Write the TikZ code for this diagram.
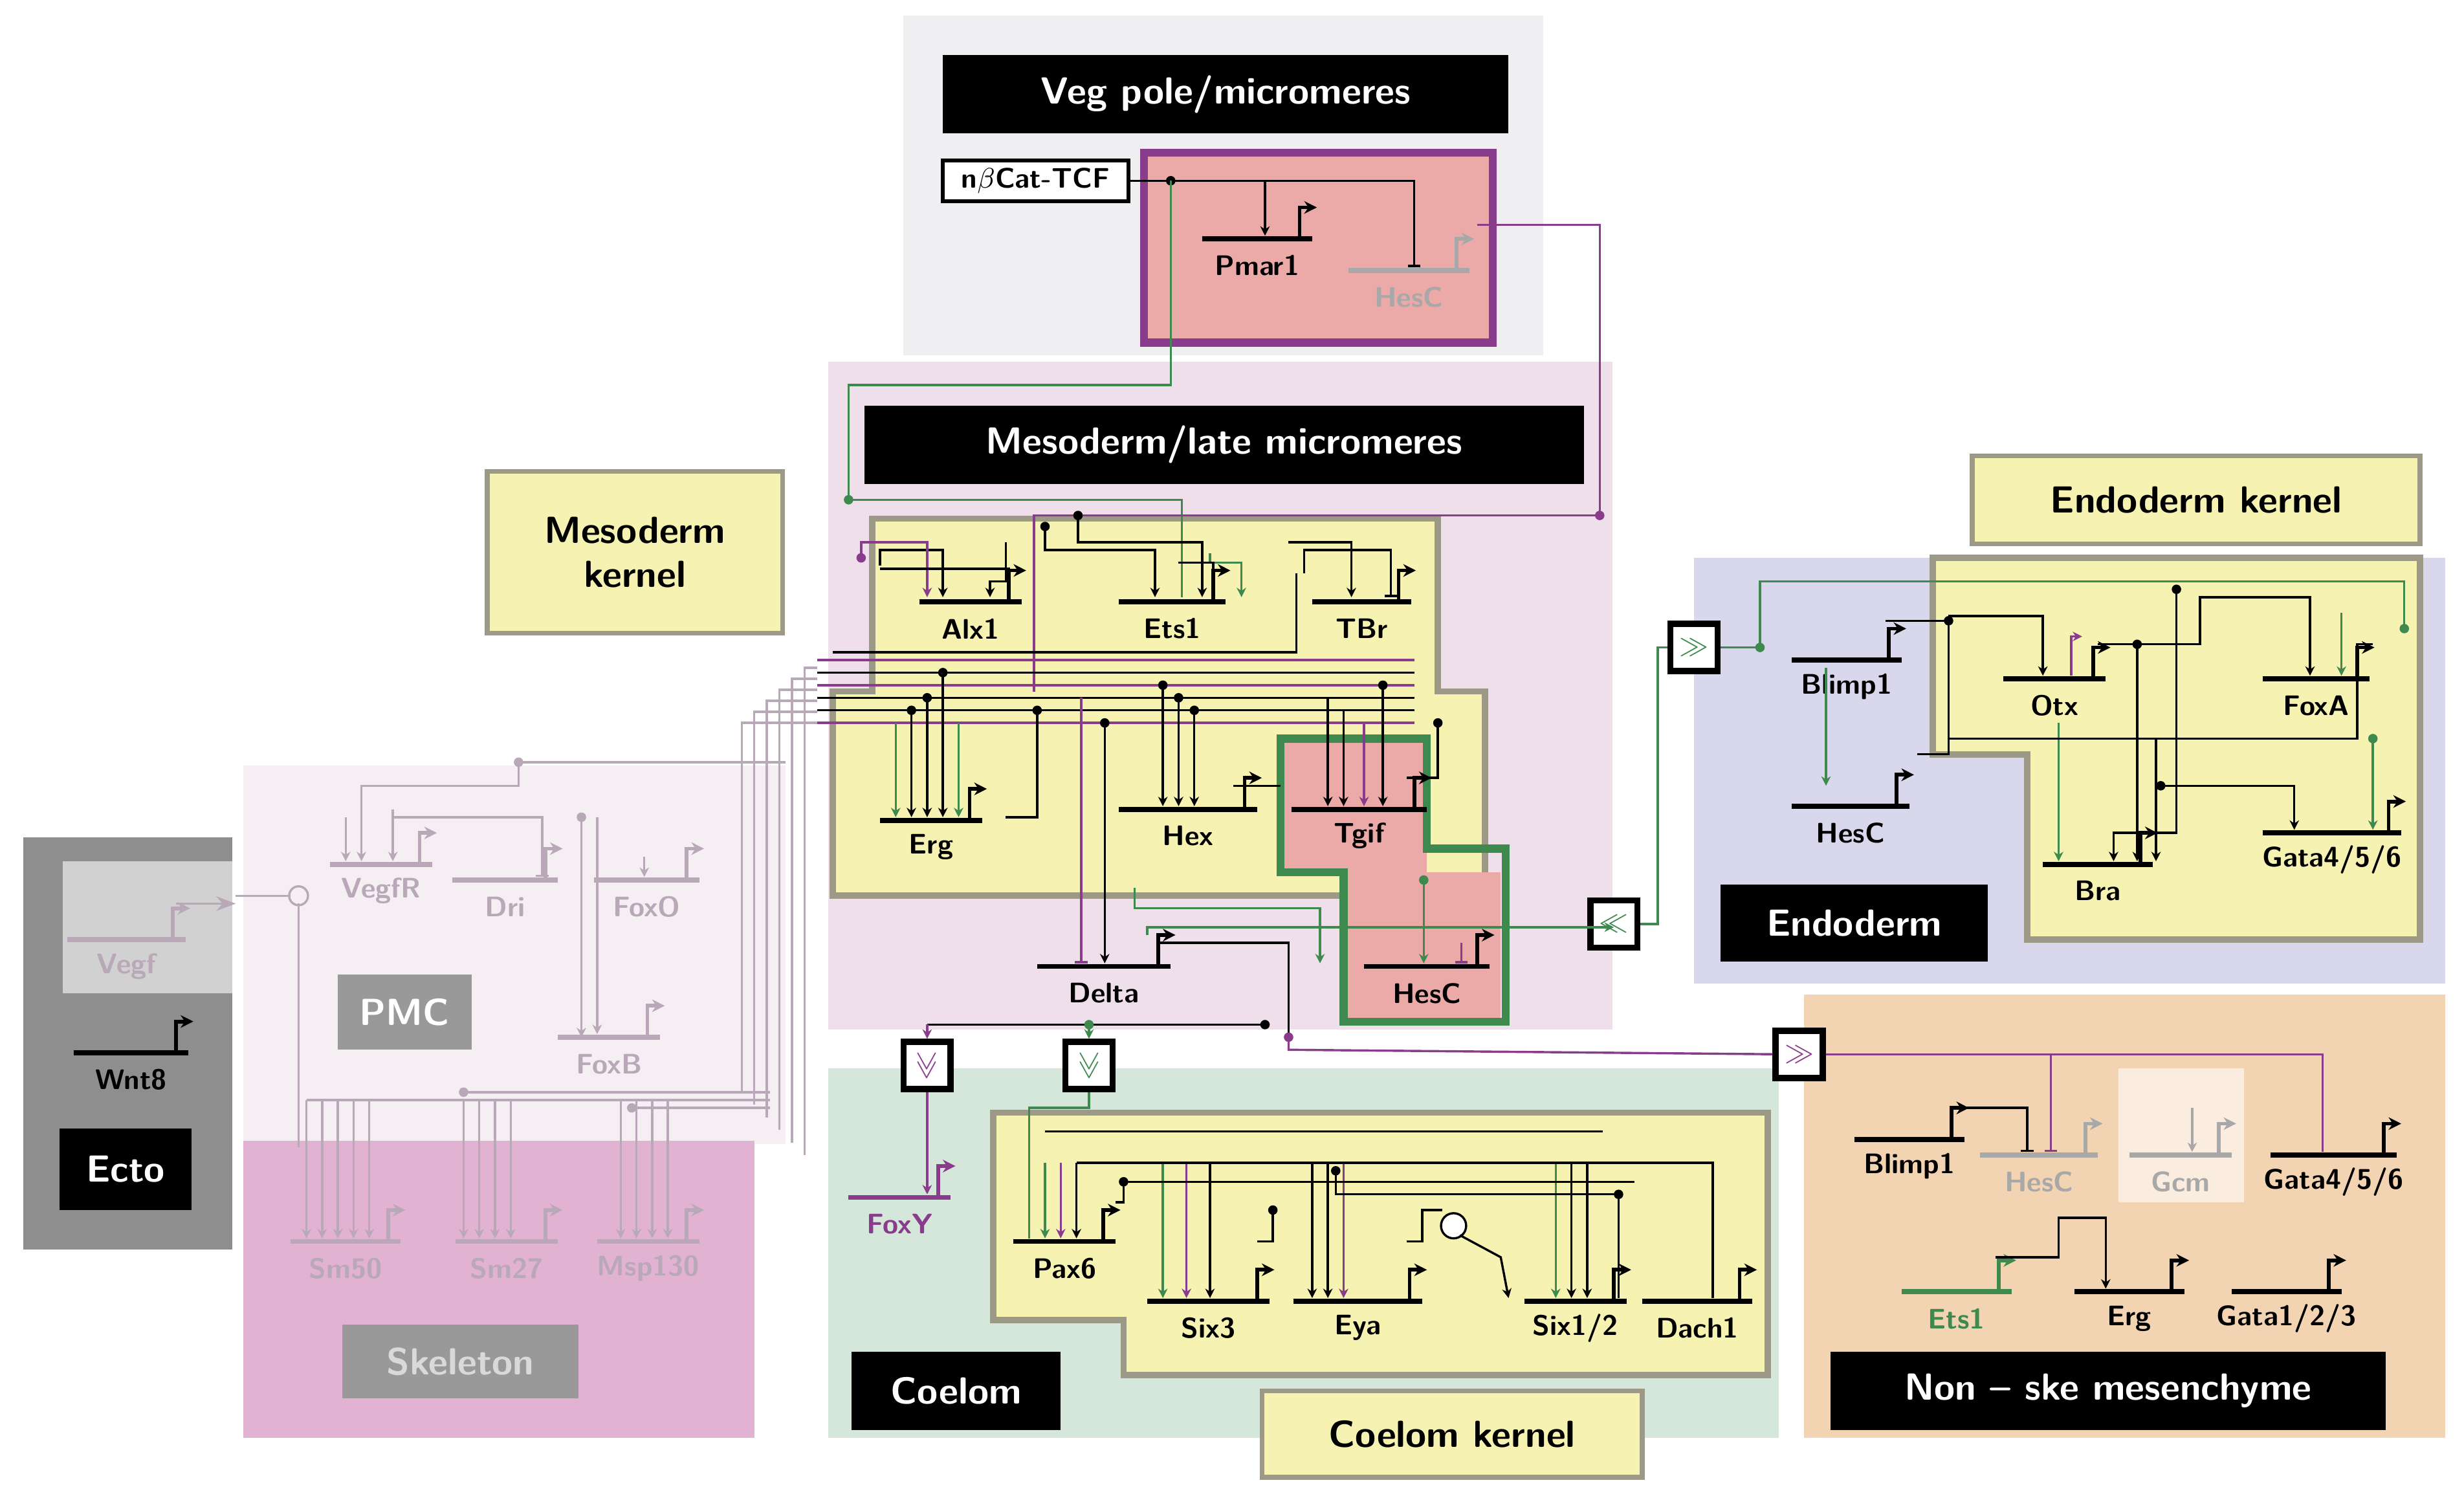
\documentclass[tikz,border=0pt]{standalone}
\usepackage{fontspec}
\setmainfont{Liberation Sans}
\usetikzlibrary{arrows.meta,calc}
\definecolor{vegbg}{HTML}{EFEFF2}
\definecolor{mesobg}{HTML}{EEDFEA}
\definecolor{ylw}{HTML}{F6F2B2}
\definecolor{ylwb}{HTML}{9C9A86}
\definecolor{pnk}{HTML}{EBA9A8}
\definecolor{coel}{HTML}{D4E7DA}
\definecolor{endo}{HTML}{D8D7EB}
\definecolor{nske}{HTML}{F2D3B2}
\definecolor{ecto}{HTML}{8E8E8E}
\definecolor{pmc}{HTML}{F5EFF3}
\definecolor{skel}{HTML}{E2B2D2}
\definecolor{pur}{HTML}{8A3C8C}
\definecolor{grn}{HTML}{3E8A4E}
\definecolor{fad}{HTML}{B8A8B8}
\definecolor{lgr}{HTML}{A8A8A8}
\tikzset{
 x=0.5pt,y=-0.5pt,
 gl/.style={line width=1.6pt},
 glab/.style={font=\sffamily\bfseries\small,inner sep=0},
 w/.style={line width=0.7pt},
 wa/.style={w,-{Stealth[length=3pt,width=3pt]}},
 wb/.style={w,-{Bar[width=4pt]}},
 dot/.style={circle,fill,inner sep=0,minimum size=3pt},
 blab/.style={fill=black,text=white,font=\sffamily\bfseries\large,inner sep=0},
 klab/.style={fill=ylw,draw=ylwb,line width=1.5pt,font=\sffamily\bfseries\large,inner sep=0,align=center},
 tbox/.style={draw=black,line width=2pt,fill=white,minimum size=15pt,inner sep=0,font=\sffamily\bfseries\small},
}
\newcommand\gn[6]{%
 \draw[gl,#2] (#3,#5) -- (#4,#5);
 \draw[gl,#2,line width=1.2pt,-{Stealth[length=4pt,width=4pt]}] (#4-8,#5) -- (#4-8,#5-20) -- (#4+3,#5-20);
 \node[glab,text=#2] (#1) at ({(#3+#4)/2},#5+17) {#6};}
\newcommand\bx[7]{% x1 y1 x2 y2 style text name
 \node[#5,minimum width={(#3-#1)*0.5pt},minimum height={(#4-#2)*0.5pt}] (#7) at ({(#1+#3)/2},{(#2+#4)/2}) {#6};}
\begin{document}
\begin{tikzpicture}
\useasboundingbox (0,0) rectangle (1568,953);
\fill[white] (0,0) rectangle (1568,953);
% regions
\fill[vegbg] (575,10) rectangle (982,226);
\fill[mesobg] (527,230) rectangle (1026,655);
\fill[ecto] (15,533) rectangle (148,795);
\fill[black!18] (40,548) rectangle (148,632);
\fill[pmc] (155,487) rectangle (500,728);
\fill[skel] (155,726) rectangle (480,915);
\fill[coel] (527,680) rectangle (1132,915);
\fill[endo] (1078,355) rectangle (1556,626);
\fill[nske] (1148,633) rectangle (1556,915);
\fill[nske!40] (1348,680) rectangle (1428,765);
% yellow kernels
\draw[fill=ylw,draw=ylwb,line width=2pt] (555,330) -- (915,330) -- (915,440) -- (945,440) -- (945,570) -- (530,570) -- (530,440) -- (555,440) -- cycle;
\draw[fill=pnk,draw=none] (815,470) rectangle (908,555);
\draw[fill=pnk,draw=none] (855,555) rectangle (955,650);
\draw[grn,line width=2.5pt] (815,470) -- (908,470) -- (908,540) -- (958,540) -- (958,650) -- (855,650) -- (855,555) -- (815,555) -- cycle;
\draw[fill=ylw,draw=ylwb,line width=2pt] (632,708) -- (1125,708) -- (1125,875) -- (715,875) -- (715,840) -- (632,840) -- cycle;
\draw[fill=ylw,draw=ylwb,line width=2pt] (1230,355) -- (1540,355) -- (1540,598) -- (1290,598) -- (1290,480) -- (1230,480) -- cycle;
\draw[fill=pnk,draw=pur,line width=2.5pt] (728,97) rectangle (950,218);
% labels
\bx{600}{35}{960}{85}{blab}{Veg pole/micromeres}{lveg}
\bx{550}{258}{1008}{308}{blab}{Mesoderm/late micromeres}{lmes}
\bx{310}{300}{498}{403}{klab}{Mesoderm\\kernel}{lmk}
\bx{38}{718}{122}{770}{blab}{Ecto}{lecto}
\bx{215}{620}{300}{668}{fill=black!40,text=white,font=\sffamily\bfseries\large,inner sep=0}{PMC}{lpmc}
\bx{218}{843}{368}{890}{fill=black!40,text=white!85!black,font=\sffamily\bfseries\large,inner sep=0}{Skeleton}{lsk}
\bx{542}{860}{675}{910}{blab}{Coelom}{lcoel}
\bx{803}{885}{1045}{940}{klab}{Coelom kernel}{lck}
\bx{1095}{563}{1265}{612}{blab}{Endoderm}{lend}
\bx{1255}{290}{1540}{346}{klab}{Endoderm kernel}{lek}
\bx{1165}{860}{1518}{910}{blab}{Non -- ske mesenchyme}{lns}
\bx{600}{102}{718}{128}{draw=black,line width=1.2pt,fill=white,font=\sffamily\bfseries\small,inner sep=0}{n$\beta$Cat-TCF}{cat}
% genes
\gn{pmar}{black}{765}{835}{152}{Pmar1}
\gn{hesv}{lgr}{858}{935}{172}{HesC}
\gn{alx}{black}{585}{650}{383}{Alx1}
\gn{ets}{black}{712}{780}{383}{Ets1}
\gn{tbr}{black}{835}{898}{383}{TBr}
\gn{erg}{black}{560}{625}{522}{Erg}
\gn{hex}{black}{712}{800}{515}{Hex}
\gn{tgif}{black}{822}{908}{515}{Tgif}
\gn{hesm}{black}{868}{948}{615}{HesC}
\gn{delta}{black}{660}{745}{615}{Delta}
\gn{vegf}{fad}{43}{118}{598}{Vegf}
\gn{wnt}{black}{47}{120}{670}{Wnt8}
\gn{vegfr}{fad}{210}{275}{550}{VegfR}
\gn{dri}{fad}{288}{355}{560}{Dri}
\gn{foxo}{fad}{378}{445}{560}{FoxO}
\gn{foxb}{fad}{355}{420}{660}{FoxB}
\gn{sm50}{fad}{185}{255}{790}{Sm50}
\gn{sm27}{fad}{290}{355}{790}{Sm27}
\gn{msp}{fad}{380}{445}{790}{Msp130}
\gn{foxy}{pur}{540}{605}{762}{FoxY}
\gn{pax}{black}{645}{710}{790}{Pax6}
\gn{six3}{black}{730}{808}{828}{Six3}
\gn{eya}{black}{823}{905}{828}{Eya}
\gn{six12}{black}{970}{1035}{828}{Six1/2}
\gn{dach}{black}{1045}{1115}{828}{Dach1}
\gn{blimp}{black}{1140}{1210}{420}{Blimp1}
\gn{hese}{black}{1140}{1215}{513}{HesC}
\gn{otx}{black}{1275}{1340}{432}{Otx}
\gn{foxa}{black}{1440}{1508}{432}{FoxA}
\gn{bra}{black}{1300}{1370}{550}{Bra}
\gn{gata}{black}{1440}{1528}{530}{Gata4/5/6}
\gn{blimpn}{black}{1180}{1250}{725}{Blimp1}
\gn{hesn}{lgr}{1260}{1335}{735}{HesC}
\gn{gcm}{lgr}{1355}{1420}{735}{Gcm}
\gn{gatan}{black}{1445}{1525}{735}{Gata4/5/6}
\gn{etsn}{grn}{1210}{1280}{822}{Ets1}
\gn{ergn}{black}{1320}{1390}{822}{Erg}
\gn{gata123}{black}{1420}{1490}{822}{Gata1/2/3}
% transfer boxes
\node[tbox,text=grn] (t1) at (1078,412) {$\gg$};
\node[tbox,text=grn] (t2) at (1027,588) {$\ll$};
\node[tbox,text=pur,rotate=-90] (t3) at (590,678) {$\gg$};
\node[tbox,text=grn,rotate=-90] (t4) at (693,678) {$\gg$};
\node[tbox,text=pur] (t5) at (1145,671) {$\gg$};
% veg wiring
\draw[wa] (cat.east) -- (745,115) node[dot]{} -- (805,115) -- (805,150);
\draw[wb] (745,115) -- (900,115) -- (900,170);
\draw[w,pur] (940,143) -- (1018,143) -- (1018,328) node[dot]{};
\draw[w,grn] (745,115) -- (745,245) -- (540,245) -- (540,318) node[dot]{};
% mesoderm wiring (approx)
\draw[w,grn] (540,318) -- (752,318) -- (752,380);
\draw[w,pur] (1018,328) -- (658,328) -- (658,440);
\draw[wa] (560,360) -- (560,350) -- (600,350) -- (600,380);
\draw[wa,pur] (548,355) node[dot]{} -- (548,345) -- (590,345) -- (590,380);
\draw[wa] (665,335) node[dot]{} -- (665,350) -- (735,350) -- (735,380);
\draw[wa] (686,328) node[dot]{} -- (686,345) -- (765,345) -- (765,380);
\draw[wa] (640,345) -- (640,370) -- (630,370) -- (630,380);
\draw[wa,grn] (770,352) -- (770,358) -- (790,358) -- (790,380);
\draw[wa] (820,345) -- (860,345) -- (860,380);
\draw[wb] (830,365) -- (830,350) -- (885,350) -- (885,380);
\draw[w] (825,365) -- (825,415) -- (530,415);
\draw[w] (642,365) -- (642,362) -- (560,362);
\draw[w] (772,365) -- (772,358) -- (750,358);
% horizontal buses
\foreach \yy/\cc in {420/pur,428/black,436/pur,444/black,452/black,460/pur}{\draw[w,\cc] (520,\yy) -- (900,\yy);}
\draw[wa] (600,428) node[dot]{} -- (600,520);
\draw[wa] (590,444) node[dot]{} -- (590,520);
\draw[wa] (580,452) node[dot]{} -- (580,520);
\draw[wa,grn] (570,460) -- (570,520);
\draw[wa,grn] (610,460) -- (610,520);
\draw[w] (660,452) node[dot]{} -- (660,520) -- (640,520);
\draw[wa] (740,436) node[dot]{} -- (740,513);
\draw[wa] (750,444) node[dot]{} -- (750,513);
\draw[wa] (760,452) node[dot]{} -- (760,513);
\draw[w] (785,500) -- (815,500);
\draw[wa] (845,444) -- (845,513);
\draw[wa] (855,452) -- (855,513);
\draw[wa,pur] (868,460) -- (868,513);
\draw[wa] (880,436) node[dot]{} -- (880,513);
\draw[w] (895,495) -- (915,495) -- (915,460) node[dot]{};
\draw[wa] (703,460) node[dot]{} -- (703,613);
\draw[wb,pur] (688,444) -- (688,613);
\draw[wa,grn] (722,565) -- (722,578) -- (840,578) -- (840,613);
\draw[wa,grn] (730,595) -- (730,590) -- (1027,590);
\draw[wa,grn] (906,560) node[dot]{} -- (906,613);
\draw[wb,pur] (930,600) -- (930,613);
\draw[w,grn] (t2) -- (1055,588) -- (1055,412) -- (t1);
\draw[w] (737,595) -- (737,600) -- (820,600) -- (820,660);
% delta outputs
\draw[w] (805,652) node[dot]{} -- (590,652);
\draw[wa,pur] (590,652) -- (t3);
\draw[wa,grn] (693,652) node[dot]{} -- (t4);
\draw[w,pur] (820,660) node[dot]{} -- (820,668) -- (t5);
\draw[wa,pur] (t3) -- (590,760);
% coelom wiring
\draw[w,grn] (t4) -- (693,705) -- (655,705) -- (655,788);
\foreach \xx/\cc in {665/grn,675/pur,685/black,740/grn,755/pur,770/black,835/black,845/black,855/pur,990/grn,1000/black,1010/black}{\draw[wa,\cc] (\xx,740) -- (\xx,{\xx<720?788:826});}
\draw[w] (665,720) -- (1020,720);
\draw[w] (685,740) -- (1090,740) -- (1090,826);
\draw[w] (710,765) -- (715,765) -- (715,752) node[dot]{} -- (1040,752);
\draw[w] (800,790) -- (810,790) -- (810,770) node[dot]{} ;
\draw[w] (895,790) -- (905,790) -- (905,770) -- (918,770);
\draw[w,fill=white] (925,780) circle (4pt);
\draw[wa] (929,786) -- (955,800) -- (960,826);
\draw[w] (850,745) node[dot]{} -- (850,760) -- (1030,760) node[dot]{} -- (1030,826);
% endoderm wiring
\draw[w,grn] (t1) -- (1120,412) node[dot]{} -- (1120,370) -- (1530,370) -- (1530,400) node[dot]{};
\draw[w] (1200,395) -- (1240,395) node[dot]{} -- (1240,480) -- (1220,480);
\draw[wa,grn] (1162,425) -- (1162,500);
\draw[wa] (1240,392) -- (1300,392) -- (1300,430);
\draw[wa,pur] (1318,430) -- (1318,405) -- (1325,405);
\draw[wa] (1385,375) node[dot]{} -- (1385,530) -- (1345,530) -- (1345,548);
\draw[wa] (1335,410) -- (1400,410) -- (1400,380) -- (1470,380) -- (1470,430);
\draw[wa,grn] (1490,390) -- (1490,430);
\draw[wa] (1360,410) node[dot]{} -- (1360,548);
\draw[wa,grn] (1310,460) -- (1310,548);
\draw[wa] (1375,500) node[dot]{} -- (1460,500) -- (1460,528);
\draw[wa,grn] (1510,470) node[dot]{} -- (1510,528);
\draw[wa] (1372,470) -- (1372,548);
\draw[w] (1240,470) -- (1500,470) -- (1500,410) -- (1510,410);
% non-ske wiring
\draw[w,pur] (t5) -- (1478,671) -- (1478,733);
\draw[wb,pur] (1305,671) -- (1305,733);
\draw[wb] (1245,705) -- (1290,705) -- (1290,733);
\draw[wa,lgr] (1395,705) -- (1395,733);
\draw[wa] (1270,800) -- (1310,800) -- (1310,775) -- (1340,775) -- (1340,820);
% ecto to PMC
\draw[w,fad,-{Stealth}] (112,575) -- (150,575);
\draw[w,fad] (150,570) -- (185,570);
\draw[w,fad] (190,570) circle (3pt);
% faded PMC wiring
\foreach \k in {0,...,5}{
 \draw[w,fad] (520,{425+\k*7}) -- ({512-\k*8},{425+\k*7}) -- ({512-\k*8},{735-\k*8});}
\draw[wa,fad] (330,485) node[dot]{} -- (330,500) -- (230,500) -- (230,548);
\draw[w,fad] (330,485) -- (500,485);
\draw[wa,fad] (370,520) node[dot]{} -- (370,660);
\draw[wa,fad] (380,520) -- (380,658);
\draw[wa,fad] (250,515) -- (250,548);
\draw[wa,fad] (410,545) -- (410,558);
\draw[wb,fad] (250,530) -- (250,520) -- (345,520) -- (345,558);
\draw[wa,fad] (220,520) -- (220,548);
\draw[w,fad] (190,575) -- (190,730);
\foreach \xx in {195,205,215,225,235,295,305,315,325,395,405,415,425}{\draw[wa,fad] (\xx,700) -- (\xx,788);}
\draw[w,fad] (195,700) -- (490,700);
\draw[w,fad] (295,695) node[dot]{} -- (490,695);
\draw[w,fad] (402,705) node[dot]{} -- (490,705);
\end{tikzpicture}
\end{document}
